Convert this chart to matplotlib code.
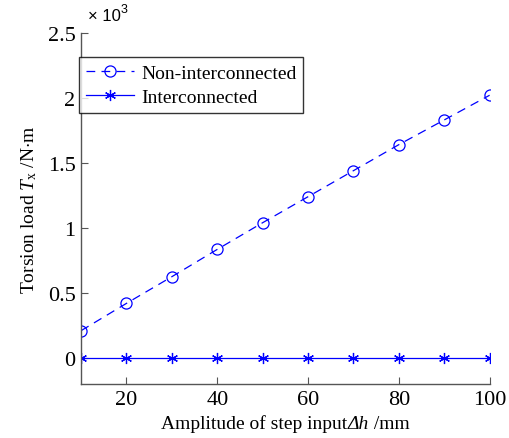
import numpy as np
import matplotlib.pyplot as plt
from matplotlib.ticker import FuncFormatter
from matplotlib.offsetbox import TextArea, HPacker, AnchoredOffsetbox

plt.rcParams['font.family'] = 'Liberation Serif'
plt.rcParams['mathtext.fontset'] = 'custom'
plt.rcParams['mathtext.rm'] = 'Liberation Serif'
plt.rcParams['mathtext.it'] = 'Liberation Serif:italic'

# step amplitude (mm) and torsion load (N*m)
amplitude = [10, 20, 30, 40, 50, 60, 70, 80, 90, 100]
non_inter = [210, 420, 625, 835, 1040, 1240, 1440, 1640, 1830, 2020]
inter = [0, 0, 0, 0, 0, 0, 0, 0, 0, 0]

fig = plt.figure(figsize=(5.1, 4.39), dpi=100)
ax = fig.add_axes([0.159, 0.123, 0.801, 0.800])

blue = (0, 0, 1)
ax.plot(amplitude, np.array(non_inter) / 1000, '--', color=blue, lw=0.9,
        dashes=(7, 5), marker='o', ms=8, mfc='none', mew=0.9,
        label='Non-interconnected')
ax.plot(amplitude, np.array(inter) / 1000, '-', color=blue, lw=0.9,
        marker=(6, 2, 0), ms=8, mew=0.9, label='Interconnected')

ax.set_xlim(10, 100)
ax.set_ylim(-0.2, 2.5)
ax.set_xticks([20, 40, 60, 80, 100])
ax.set_yticks([0, 0.5, 1, 1.5, 2, 2.5])
ax.yaxis.set_major_formatter(FuncFormatter(lambda v, p: ('%g' % v)))

for s in ['top', 'right']:
    ax.spines[s].set_visible(False)
for s in ['left', 'bottom']:
    ax.spines[s].set_color('#555555')
    ax.spines[s].set_linewidth(1.0)
ax.tick_params(direction='in', length=5, width=0.8, color='#555555',
               labelsize=16, pad=4)

# x label built from pieces so that the Delta is italic
parts = [TextArea('Amplitude of step input', textprops=dict(fontsize=14)),
         TextArea('\u0394h', textprops=dict(fontsize=14, style='italic')),
         TextArea(' /mm', textprops=dict(fontsize=14))]
xlab = AnchoredOffsetbox(loc='upper center', child=HPacker(children=parts, pad=0, sep=0),
                         bbox_to_anchor=(0.5, -0.085), bbox_transform=ax.transAxes,
                         frameon=False, pad=0, borderpad=0)
ax.add_artist(xlab)

ax.set_ylabel(r'Torsion load $\it{T}_{\rm x}$ /N$\cdot$m', fontsize=14, labelpad=6)

fig.text(0.172, 0.952, '\u00d7 10', fontsize=12, family='Liberation Sans')
fig.text(0.236, 0.971, '3', fontsize=9, family='Liberation Sans')

leg = ax.legend(loc='upper left', bbox_to_anchor=(-0.005, 0.93), fontsize=14,
                frameon=True, fancybox=False, edgecolor='black',
                borderaxespad=0, handlelength=2.5, handletextpad=0.35,
                labelspacing=0.35, borderpad=0.35)
leg.get_frame().set_linewidth(1.0)

fig.savefig('out.png', dpi=100)
